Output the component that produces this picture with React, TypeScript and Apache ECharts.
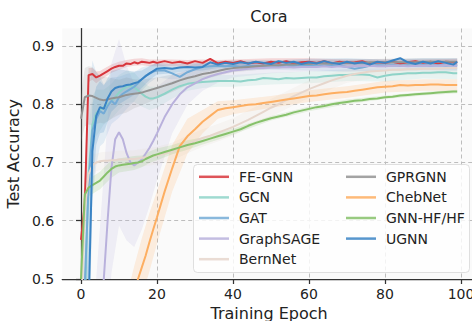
import React, { useEffect, useRef } from "react";
import * as echarts from "echarts";

const epochs = [
  0, 1, 2, 3, 4, 5, 6, 7, 8, 9, 10, 11, 12, 13, 14, 15, 16, 17, 18, 19, 20,
  22, 24, 26, 28, 30, 32, 34, 36, 38, 40, 42, 44, 46, 48, 50, 52, 54, 56, 58,
  60, 62, 64, 66, 68, 70, 72, 74, 76, 78, 80, 82, 84, 86, 88, 90, 92, 94, 96, 98, 99,
];
const bandEpochs = [0, 1, 2, 3, 4, 5, 6, 8, 10, 12, 14, 16, 18, 20, 24, 28, 32, 36, 40, 50, 60, 70, 80, 90, 99];

const xTicks = [0, 20, 40, 60, 80, 100];
const yTicks = [0.5, 0.6, 0.7, 0.8, 0.9];

const seriesNames = ["FE-GNN", "GCN", "GAT", "GraphSAGE", "BernNet", "GPRGNN", "ChebNet", "GNN-HF/HF", "UGNN"];
const colors = ["#d8363c", "#8ed3c8", "#74abd6", "#b9b1dc", "#e6d6cc", "#939393", "#fdae61", "#86c16a", "#3a84c4"];

const feGnn = [
  0.567, 0.63, 0.85, 0.852, 0.846, 0.849, 0.853, 0.857, 0.861, 0.864, 0.866, 0.866, 0.87, 0.869, 0.872, 0.87, 0.873, 0.872, 0.871, 0.873, 0.871,
  0.874, 0.871, 0.873, 0.87, 0.874, 0.871, 0.878, 0.87, 0.873, 0.871, 0.874, 0.87, 0.872, 0.87, 0.873, 0.871, 0.874, 0.87, 0.872,
  0.873, 0.871, 0.874, 0.87, 0.873, 0.871, 0.872, 0.874, 0.87, 0.872, 0.871, 0.873, 0.87, 0.872, 0.874, 0.871, 0.873, 0.87, 0.873, 0.872, 0.872,
];
const gcn = [
  0.3, 0.45, 0.68, 0.765, 0.785, 0.79, 0.795, 0.8, 0.805, 0.812, 0.82, 0.826, 0.83, 0.832, 0.829, 0.824, 0.818, 0.813, 0.81, 0.81, 0.812,
  0.818, 0.825, 0.831, 0.835, 0.837, 0.838, 0.839, 0.84, 0.84, 0.84, 0.839, 0.841, 0.842, 0.845, 0.844, 0.843, 0.845, 0.844, 0.845,
  0.846, 0.846, 0.848, 0.849, 0.85, 0.85, 0.851, 0.851, 0.85, 0.846, 0.849, 0.851, 0.852, 0.853, 0.853, 0.854, 0.854, 0.855, 0.855, 0.853, 0.853,
];
const gat = [
  0.35, 0.49, 0.66, 0.755, 0.775, 0.788, 0.784, 0.797, 0.806, 0.8, 0.812, 0.818, 0.822, 0.826, 0.83, 0.836, 0.843, 0.849, 0.852, 0.856, 0.858,
  0.858, 0.853, 0.847, 0.855, 0.86, 0.864, 0.865, 0.866, 0.865, 0.866, 0.864, 0.866, 0.865, 0.866, 0.867, 0.866, 0.865, 0.866, 0.867,
  0.866, 0.865, 0.866, 0.867, 0.866, 0.864, 0.861, 0.863, 0.866, 0.867, 0.866, 0.867, 0.866, 0.867, 0.866, 0.867, 0.866, 0.867, 0.866, 0.867, 0.866,
];
const graphSage = [
  0.2, 0.25, 0.3, 0.33, 0.38, 0.44, 0.5, 0.6, 0.69, 0.74, 0.752, 0.74, 0.716, 0.7, 0.695, 0.7, 0.705, 0.715, 0.725, 0.737, 0.75,
  0.778, 0.8, 0.817, 0.829, 0.836, 0.843, 0.848, 0.852, 0.855, 0.858, 0.859, 0.861, 0.862, 0.862, 0.863, 0.863, 0.864, 0.863, 0.864,
  0.864, 0.864, 0.865, 0.864, 0.865, 0.864, 0.865, 0.865, 0.866, 0.865, 0.865, 0.866, 0.866, 0.865, 0.866, 0.866, 0.866, 0.866, 0.867, 0.866, 0.866,
];
const bernNet = [
  0.45, 0.62, 0.68, 0.695, 0.7, 0.702, 0.703, 0.703, 0.704, 0.704, 0.705, 0.705, 0.705, 0.706, 0.706, 0.707, 0.708, 0.709, 0.71, 0.711, 0.712,
  0.715, 0.719, 0.725, 0.731, 0.737, 0.742, 0.746, 0.751, 0.756, 0.761, 0.767, 0.773, 0.78, 0.787, 0.794, 0.8, 0.807, 0.814, 0.82,
  0.826, 0.831, 0.836, 0.841, 0.845, 0.849, 0.852, 0.854, 0.856, 0.857, 0.858, 0.859, 0.859, 0.86, 0.86, 0.861, 0.861, 0.861, 0.862, 0.862, 0.862,
];
const gprGnn = [
  0.775, 0.812, 0.815, 0.814, 0.811, 0.808, 0.807, 0.808, 0.81, 0.811, 0.812, 0.814, 0.816, 0.817, 0.818, 0.819, 0.82, 0.822, 0.824, 0.826, 0.828,
  0.832, 0.836, 0.841, 0.845, 0.848, 0.852, 0.854, 0.857, 0.86, 0.862, 0.863, 0.864, 0.865, 0.866, 0.867, 0.867, 0.868, 0.868, 0.869,
  0.869, 0.87, 0.87, 0.87, 0.871, 0.871, 0.871, 0.871, 0.872, 0.872, 0.872, 0.872, 0.872, 0.872, 0.872, 0.873, 0.873, 0.873, 0.873, 0.873, 0.873,
];
const chebNet = [
  0.16, 0.18, 0.2, 0.22, 0.24, 0.26, 0.28, 0.3, 0.32, 0.345, 0.37, 0.395, 0.42, 0.445, 0.472, 0.5, 0.52, 0.54, 0.563, 0.585, 0.606,
  0.65, 0.69, 0.728, 0.745, 0.757, 0.77, 0.78, 0.79, 0.793, 0.795, 0.797, 0.799, 0.8, 0.802, 0.804, 0.806, 0.808, 0.81, 0.812,
  0.814, 0.815, 0.817, 0.819, 0.82, 0.821, 0.823, 0.825, 0.827, 0.829, 0.83, 0.831, 0.833, 0.832, 0.833, 0.833, 0.834, 0.834, 0.833, 0.833, 0.833,
];
const gnnHf = [
  0.5, 0.645, 0.657, 0.661, 0.665, 0.669, 0.676, 0.683, 0.689, 0.693, 0.695, 0.696, 0.697, 0.698, 0.699, 0.7, 0.702, 0.706, 0.709, 0.712, 0.714,
  0.718, 0.722, 0.726, 0.73, 0.733, 0.737, 0.741, 0.745, 0.749, 0.753, 0.757, 0.763, 0.768, 0.772, 0.776, 0.779, 0.782, 0.786, 0.789,
  0.792, 0.795, 0.797, 0.8, 0.802, 0.804, 0.806, 0.807, 0.809, 0.81, 0.812, 0.813, 0.815, 0.816, 0.817, 0.818, 0.819, 0.82, 0.821, 0.822, 0.822,
];
const ugnn = [
  0.3, 0.35, 0.45, 0.72, 0.78, 0.795, 0.792, 0.81, 0.822, 0.828, 0.83, 0.831, 0.833, 0.834, 0.836, 0.838, 0.843, 0.848, 0.853, 0.857, 0.861,
  0.862, 0.861, 0.863, 0.864, 0.863, 0.864, 0.872, 0.868, 0.871, 0.869, 0.872, 0.87, 0.873, 0.871, 0.869, 0.874, 0.871, 0.873, 0.869,
  0.872, 0.87, 0.874, 0.871, 0.869, 0.873, 0.87, 0.872, 0.868, 0.873, 0.871, 0.875, 0.879, 0.872, 0.869, 0.873, 0.87, 0.874, 0.871, 0.868, 0.873,
];

// standard deviations at bandEpochs
const feGnnStd = [0.01, 0.05, 0.012, 0.01, 0.01, 0.008, 0.008, 0.007, 0.007, 0.006, 0.006, 0.006, 0.006, 0.006, 0.006, 0.006, 0.006, 0.006, 0.006, 0.006, 0.006, 0.006, 0.006, 0.006, 0.006];
const gcnStd = [0.1, 0.1, 0.08, 0.05, 0.04, 0.035, 0.03, 0.03, 0.03, 0.028, 0.025, 0.022, 0.02, 0.018, 0.015, 0.012, 0.01, 0.01, 0.01, 0.01, 0.01, 0.01, 0.01, 0.01, 0.01];
const gatStd = [0.1, 0.1, 0.15, 0.12, 0.08, 0.06, 0.05, 0.04, 0.035, 0.03, 0.025, 0.02, 0.015, 0.012, 0.01, 0.01, 0.009, 0.008, 0.008, 0.008, 0.008, 0.008, 0.008, 0.008, 0.008];
const graphSageStd = [0.1, 0.1, 0.1, 0.1, 0.12, 0.15, 0.18, 0.18, 0.16, 0.15, 0.14, 0.12, 0.1, 0.08, 0.05, 0.03, 0.02, 0.015, 0.012, 0.01, 0.008, 0.008, 0.008, 0.008, 0.008];
const bernNetStd = [0.1, 0.06, 0.03, 0.02, 0.015, 0.015, 0.015, 0.015, 0.015, 0.015, 0.015, 0.015, 0.015, 0.015, 0.015, 0.015, 0.015, 0.015, 0.015, 0.015, 0.015, 0.012, 0.01, 0.01, 0.01];
const gprGnnStd = [0.04, 0.05, 0.05, 0.05, 0.045, 0.04, 0.04, 0.035, 0.03, 0.03, 0.025, 0.022, 0.02, 0.018, 0.015, 0.012, 0.01, 0.008, 0.007, 0.006, 0.006, 0.006, 0.006, 0.006, 0.006];
const chebNetStd = [0.05, 0.05, 0.05, 0.05, 0.05, 0.05, 0.05, 0.05, 0.05, 0.05, 0.05, 0.05, 0.05, 0.045, 0.04, 0.03, 0.02, 0.015, 0.012, 0.01, 0.01, 0.01, 0.01, 0.01, 0.01];
const gnnHfStd = [0.05, 0.02, 0.015, 0.015, 0.015, 0.015, 0.015, 0.015, 0.012, 0.012, 0.012, 0.01, 0.01, 0.01, 0.008, 0.008, 0.006, 0.006, 0.005, 0.004, 0.004, 0.004, 0.003, 0.003, 0.003];
const ugnnStd = [0.1, 0.1, 0.12, 0.08, 0.05, 0.045, 0.04, 0.035, 0.03, 0.025, 0.02, 0.015, 0.012, 0.01, 0.008, 0.007, 0.006, 0.006, 0.006, 0.006, 0.006, 0.006, 0.006, 0.006, 0.006];

const allValues = [feGnn, gcn, gat, graphSage, bernNet, gprGnn, chebNet, gnnHf, ugnn];
const allStd = [feGnnStd, gcnStd, gatStd, graphSageStd, bernNetStd, gprGnnStd, chebNetStd, gnnHfStd, ugnnStd];

const FONT = "DejaVu Sans";

export default function App() {
  const ref = useRef<HTMLDivElement>(null);
  useEffect(() => {
    document.body.style.margin = "0";
    const chart = echarts.init(ref.current!, null, { renderer: "svg" });

    const bandSeries = seriesNames.map((name, s) => ({
      type: "custom",
      name: name + " band",
      silent: true,
      clip: true,
      z: 1,
      data: [[0, 0.7]],
      encode: { x: 0, y: 1 },
      renderItem: (_params: any, api: any) => {
        const vals = allValues[s];
        const std = allStd[s];
        const up: number[][] = [];
        const lo: number[][] = [];
        bandEpochs.forEach((e, i) => {
          const m = vals[epochs.indexOf(e)];
          up.push(api.coord([e, m + std[i]]));
          lo.push(api.coord([e, m - std[i]]));
        });
        return {
          type: "polygon",
          shape: { points: up.concat(lo.reverse()) },
          style: { fill: colors[s], opacity: 0.18 },
        };
      },
    }));

    const lineSeries = seriesNames.map((name, s) => ({
      type: "line",
      name,
      data: epochs.map((e, i) => [e, allValues[s][i]]),
      showSymbol: false,
      symbol: "none",
      z: 2 + s * 0.01,
      lineStyle: { color: colors[s], width: 2 },
      itemStyle: { color: colors[s] },
      emphasis: { disabled: true },
    }));

    const legendBase = {
      orient: "vertical",
      top: 169,
      padding: 0,
      icon: "rect",
      itemWidth: 30,
      itemHeight: 2.5,
      itemGap: 5,
      selectedMode: false,
      itemStyle: { opacity: 0.85 },
      textStyle: { fontSize: 14, fontFamily: FONT, color: "#222", padding: [0, 0, 0, 5], lineHeight: 15.6 },
    };

    chart.setOption({
      animation: false,
      title: {
        text: "Cora",
        left: 269,
        top: 8,
        padding: 0,
        textAlign: "center",
        textStyle: { fontSize: 16, fontWeight: "normal", fontFamily: FONT, color: "#222" },
      },
      grid: {
        left: 62.2,
        top: 28.5,
        width: 413.8,
        height: 250.5,
        show: true,
        backgroundColor: "#fafafa",
        borderWidth: 0,
        containLabel: false,
        outerBoundsMode: "none",
      },
      xAxis: {
        type: "value",
        min: -4.95,
        max: 103.95,
        name: "Training Epoch",
        nameLocation: "middle",
        nameGap: 25,
        nameTextStyle: { fontSize: 16, fontFamily: FONT, color: "#222" },
        axisLine: { show: true, lineStyle: { color: "#333", width: 1.25 } },
        axisTick: { show: true, length: 5, lineStyle: { color: "#333", width: 1.25 }, customValues: xTicks },
        axisLabel: { customValues: xTicks, fontSize: 14, fontFamily: FONT, color: "#222", margin: 8 },
        splitLine: { show: true, lineStyle: { color: "#bdbdbd", width: 1, type: [4, 3] } },
      },
      yAxis: {
        type: "value",
        min: 0.5,
        max: 0.93,
        name: "Test Accuracy",
        nameLocation: "middle",
        nameGap: 32,
        nameTextStyle: { fontSize: 16, fontFamily: FONT, color: "#222" },
        axisLine: { show: true, lineStyle: { color: "#333", width: 1.25 } },
        axisTick: { show: true, length: 5, lineStyle: { color: "#333", width: 1.25 }, customValues: yTicks },
        axisLabel: {
          customValues: yTicks,
          fontSize: 14,
          fontFamily: FONT,
          color: "#222",
          margin: 8,
          formatter: (v: number) => v.toFixed(1),
        },
        splitLine: { show: true, lineStyle: { color: "#bdbdbd", width: 1, type: [4, 3] } },
      },
      legend: [
        { ...legendBase, left: 199, data: seriesNames.slice(0, 5) },
        { ...legendBase, left: 346, data: seriesNames.slice(5) },
      ],
      graphic: [
        {
          type: "rect",
          left: 193,
          top: 164,
          z: 3,
          shape: { width: 276, height: 108, r: 4 },
          style: { fill: "rgba(255,255,255,0.8)", stroke: "rgba(215,215,215,0.8)", lineWidth: 1 },
        },
      ],
      series: [...bandSeries, ...lineSeries],
    });
    return () => chart.dispose();
  }, []);
  return <div ref={ref} style={{ width: 472, height: 321 }} />;
}
